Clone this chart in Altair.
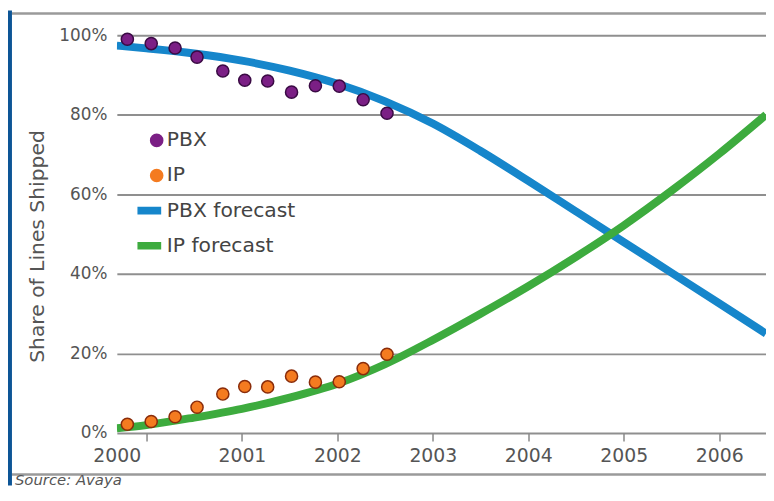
import altair as alt
import pandas as pd

# ---- data ----
series_names = ["PBX", "IP", "PBX forecast", "IP forecast"]

obs_years = [1999.80, 2000.05, 2000.30, 2000.53, 2000.80, 2001.03,
             2001.27, 2001.52, 2001.77, 2002.02, 2002.27, 2002.52]
pbx_obs = [99.0, 97.9, 96.8, 94.5, 91.0, 88.7, 88.5, 85.7, 87.3, 87.2, 83.8, 80.4]
ip_obs = [2.2, 2.9, 4.1, 6.5, 9.8, 11.7, 11.6, 14.3, 12.8, 12.9, 16.2, 19.8]

fc_years = [1999.69, 2000.0, 2000.5, 2001.0, 2001.5, 2002.0, 2002.5, 2003.0,
            2003.5, 2004.0, 2004.5, 2005.0, 2005.5, 2006.0, 2006.49]
pbx_fc = [97.4, 96.7, 95.4, 93.6, 91.1, 87.8, 83.4, 77.8, 70.9, 63.4, 55.7, 48.0, 40.3, 32.6, 25.0]
ip_fc = [1.2, 2.0, 3.9, 6.1, 8.9, 12.4, 17.3, 23.4, 30.0, 36.9, 44.3, 52.2, 60.9, 70.2, 80.0]

year_ticks = [2000, 2001, 2002, 2003, 2004, 2005, 2006]
pct_ticks = [0, 20, 40, 60, 80, 100]
source_text = ["Source: Avaya"]

fill_colors = ["#7b1f85", "#f47b20", "#1686cb", "#3dab3e"]
stroke_colors = ["#3a0a44", "#8a2c0a", "#1686cb", "#3dab3e"]
legend_shapes = ["circle", "circle",
                 "M-3.05,-0.5H0.62V0.5H-3.05Z", "M-3.05,-0.5H0.62V0.5H-3.05Z"]

obs = pd.DataFrame({
    "year": obs_years * 2,
    "value": pbx_obs + ip_obs,
    "series": ["PBX"] * len(obs_years) + ["IP"] * len(obs_years),
})
fc = pd.DataFrame({
    "year": fc_years * 2,
    "value": pbx_fc + ip_fc,
    "series": ["PBX forecast"] * len(fc_years) + ["IP forecast"] * len(fc_years),
})

FONT = "DejaVu Sans"

xscale = alt.Scale(domain=[1999.69, 2006.49], nice=False, zero=False)
yscale = alt.Scale(domain=[0, 100], nice=False)

xaxis = alt.Axis(
    values=year_ticks, format="d", title=None, grid=False, domain=False,
    tickSize=8, tickColor="#888888", tickWidth=1.5,
    labelFontSize=19, labelColor="#555555", labelFont=FONT, labelPadding=6,
    labelFlush=False,
    labelOffset={"condition": {"test": "datum.value == 2000", "value": -30}, "value": 0},
)
yaxis = alt.Axis(
    values=pct_ticks, labelExpr="datum.value + '%'", ticks=False, domain=False,
    grid=True, gridColor="#8f8f8f", gridWidth=2,
    labelFontSize=17, labelColor="#555555", labelFont=FONT, labelPadding=10,
    title="Share of Lines Shipped", titleFontSize=20.5, titleFontWeight="normal",
    titleColor="#555555", titleFont=FONT, titleX=-80, titleY=213,
    titleBaseline="middle",
)

legend = alt.Legend(
    title=None, orient="none", legendX=30, legendY=96, padding=0,
    labelFontSize=20.5, labelColor="#444444", labelFont=FONT, labelOffset=0,
    symbolSize=150, symbolStrokeWidth=1.5, rowPadding=14.5,
)

color_scale = alt.Scale(domain=series_names, range=fill_colors)

lines = alt.Chart(fc).mark_line(strokeWidth=8, interpolate="monotone", clip=True).encode(
    x=alt.X("year:Q", scale=xscale, axis=xaxis),
    y=alt.Y("value:Q", scale=yscale, axis=yaxis),
    color=alt.Color("series:N", scale=color_scale, legend=legend),
)

points = alt.Chart(obs).mark_point(filled=True, size=150, strokeWidth=1.5, opacity=1).encode(
    x=alt.X("year:Q", scale=xscale),
    y=alt.Y("value:Q", scale=yscale),
    color=alt.Color("series:N", scale=color_scale, legend=legend),
    shape=alt.Shape("series:N", scale=alt.Scale(domain=series_names, range=legend_shapes), legend=legend),
    stroke=alt.Stroke("series:N", scale=alt.Scale(domain=series_names, range=stroke_colors), legend=legend),
)

deco = pd.DataFrame({"k": [0]})
top_rule = alt.Chart(deco).mark_rule(color="#9a9a9a", strokeWidth=2.5).encode(
    x=alt.value(-106), x2=alt.value(656), y=alt.value(-22))
bottom_rule = alt.Chart(deco).mark_rule(color="#9a9a9a", strokeWidth=2.5).encode(
    x=alt.value(-106), x2=alt.value(656), y=alt.value(444))
side_bar = alt.Chart(deco).mark_rect(color="#0d5596").encode(
    x=alt.value(-110), x2=alt.value(-106), y=alt.value(-25), y2=alt.value(455))
source = alt.Chart(pd.DataFrame({"t": source_text})).mark_text(
    align="left", baseline="alphabetic", fontSize=15, fontStyle="italic",
    font=FONT, color="#555555").encode(
    text="t:N", x=alt.value(-103), y=alt.value(454))

chart = alt.layer(lines, points, top_rule, bottom_rule, side_bar, source).properties(
    width=656, height=402,
    autosize=alt.AutoSizeParams(type="none"),
    padding={"left": 110, "top": 25, "right": 0, "bottom": 53},
).configure_view(stroke=None)

chart.save("out.html", embed_options={"renderer": "svg", "actions": False})
